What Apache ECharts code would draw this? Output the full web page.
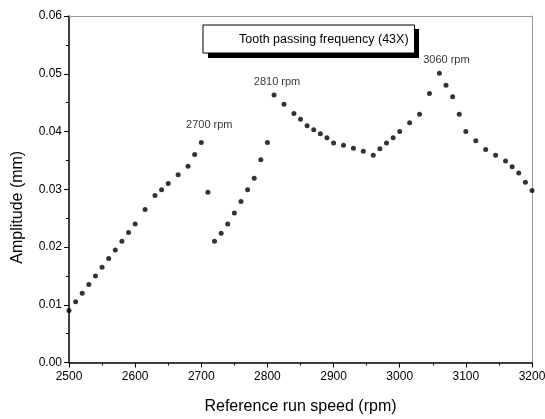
<!DOCTYPE html>
<html style="height: 100%">
   <head>
       <meta charset="utf-8">
       <title>Tooth passing frequency</title>
   </head>
   <body style="height: 100%; margin: 0; background: #fff">
        <div id="container" style="width: 545px; height: 419px"></div>
        <script src="https://cdn.jsdelivr.net/npm/echarts/dist/echarts.min.js" type="text/javascript"></script>
        <script type="text/javascript">
            // run speed (rpm) and amplitude (mm)
            var speeds = [2500, 2510, 2520, 2530, 2540, 2550, 2560, 2570, 2580, 2590,
                          2600, 2615, 2630, 2640, 2650, 2665, 2680, 2690, 2700, 2710,
                          2720, 2730, 2740, 2750, 2760, 2770, 2780, 2790, 2800, 2810,
                          2825, 2840, 2850, 2860, 2870, 2880, 2890, 2900, 2915, 2930,
                          2945, 2960, 2970, 2980, 2990, 3000, 3015, 3030, 3045, 3060,
                          3070, 3080, 3090, 3100, 3115, 3130, 3145, 3160, 3170, 3180,
                          3190, 3200];
            var amplitudes = [0.0090, 0.0105, 0.0120, 0.0135, 0.0150, 0.0165, 0.0180, 0.0195, 0.0210, 0.0225,
                              0.0240, 0.0265, 0.0289, 0.0299, 0.0310, 0.0325, 0.0340, 0.0360, 0.0381, 0.0295,
                              0.0210, 0.0224, 0.0240, 0.0259, 0.0279, 0.0299, 0.0319, 0.0351, 0.0381, 0.0463,
                              0.0447, 0.0431, 0.0421, 0.0410, 0.0403, 0.0396, 0.0389, 0.0380, 0.0376, 0.0371,
                              0.0366, 0.0359, 0.0370, 0.0380, 0.0389, 0.0400, 0.0415, 0.0430, 0.0466, 0.0501,
                              0.0480, 0.0460, 0.0430, 0.0400, 0.0384, 0.0369, 0.0359, 0.0349, 0.0339, 0.0328,
                              0.0312, 0.0298];
            var peakSpeeds = [2700, 2810, 3060];
            var peakTexts = ['2700 rpm', '2810 rpm', '3060 rpm'];
            var seriesName = 'Tooth passing frequency (43X)';

            var peakOffsets = {2700: [8, -5], 2810: [3, 0], 3060: [7, 0]};
            var font = 'Liberation Sans, Arial, sans-serif';

            var dom = document.getElementById("container");
            var myChart = echarts.init(dom, null, {renderer: 'canvas'});

            var points = speeds.map(function (s, i) {
                var item = {value: [s, amplitudes[i]]};
                var k = peakSpeeds.indexOf(s);
                if (k >= 0) {
                    item.label = {
                        show: true,
                        position: 'top',
                        offset: peakOffsets[s],
                        formatter: peakTexts[k],
                        color: '#000',
                        fontSize: 11,
                        fontFamily: font
                    };
                }
                return item;
            });

            var option = {
                backgroundColor: '#fff',
                animation: false,
                grid: {
                    left: 69, right: 13, top: 16, bottom: 56.5,
                    containLabel: false, outerBoundsMode: 'none'
                },
                // drop shadow behind the legend box
                graphic: [{
                    type: 'rect',
                    z: 1,
                    silent: true,
                    shape: {x: 208, y: 29, width: 211, height: 29},
                    style: {fill: '#000'}
                }],
                legend: {
                    data: [seriesName],
                    left: 203, top: 25,
                    padding: [8, 6, 7, 31],
                    z: 5,
                    itemWidth: 0,
                    itemHeight: 14,
                    itemStyle: {color: 'transparent', borderWidth: 0},
                    backgroundColor: '#fff',
                    borderColor: '#000',
                    borderWidth: 1,
                    borderRadius: 0,
                    textStyle: {color: '#000', fontSize: 12.5, fontFamily: font}
                },
                xAxis: [{
                    type: 'value',
                    min: 2500, max: 3200, interval: 100,
                    name: 'Reference run speed (rpm)',
                    nameLocation: 'middle',
                    nameGap: 36,
                    nameTextStyle: {color: '#000', fontSize: 16, fontFamily: font},
                    axisLine: {onZero: false, lineStyle: {color: '#000', width: 1.5}},
                    axisTick: {show: true, inside: false, length: 5, lineStyle: {color: '#000'}},
                    minorTick: {show: true, splitNumber: 2, length: 3, lineStyle: {color: '#000'}},
                    axisLabel: {
                        color: '#000', fontSize: 12, fontFamily: font, margin: 8,
                        formatter: function (v) { return String(v); }
                    },
                    splitLine: {show: false}
                }, {
                    type: 'value', position: 'top',
                    min: 2500, max: 3200,
                    axisLine: {onZero: false, lineStyle: {color: '#999', width: 1}},
                    axisTick: {show: false}, axisLabel: {show: false}, splitLine: {show: false}
                }],
                yAxis: [{
                    type: 'value',
                    min: 0, max: 0.06, interval: 0.01,
                    name: 'Amplitude (mm)',
                    nameLocation: 'middle',
                    nameGap: 43,
                    nameTextStyle: {color: '#000', fontSize: 16, fontFamily: font, padding: [0, 36, 0, 0]},
                    axisLine: {onZero: false, lineStyle: {color: '#000', width: 1.5}},
                    axisTick: {show: true, inside: false, length: 5, lineStyle: {color: '#000'}},
                    minorTick: {show: true, splitNumber: 2, length: 3, lineStyle: {color: '#000'}},
                    axisLabel: {
                        color: '#000', fontSize: 12, fontFamily: font, margin: 7,
                        formatter: function (v) { return v.toFixed(2); }
                    },
                    splitLine: {show: false}
                }, {
                    type: 'value', position: 'right',
                    min: 0, max: 0.06,
                    axisLine: {onZero: false, lineStyle: {color: '#999', width: 1}},
                    axisTick: {show: false}, axisLabel: {show: false}, splitLine: {show: false}
                }],
                series: [{
                    name: seriesName,
                    type: 'scatter',
                    xAxisIndex: 0,
                    yAxisIndex: 0,
                    symbol: 'circle',
                    symbolSize: 5,
                    itemStyle: {color: '#000'},
                    data: points
                }]
            };
            myChart.setOption(option, true);
       </script>
   </body>
</html>
